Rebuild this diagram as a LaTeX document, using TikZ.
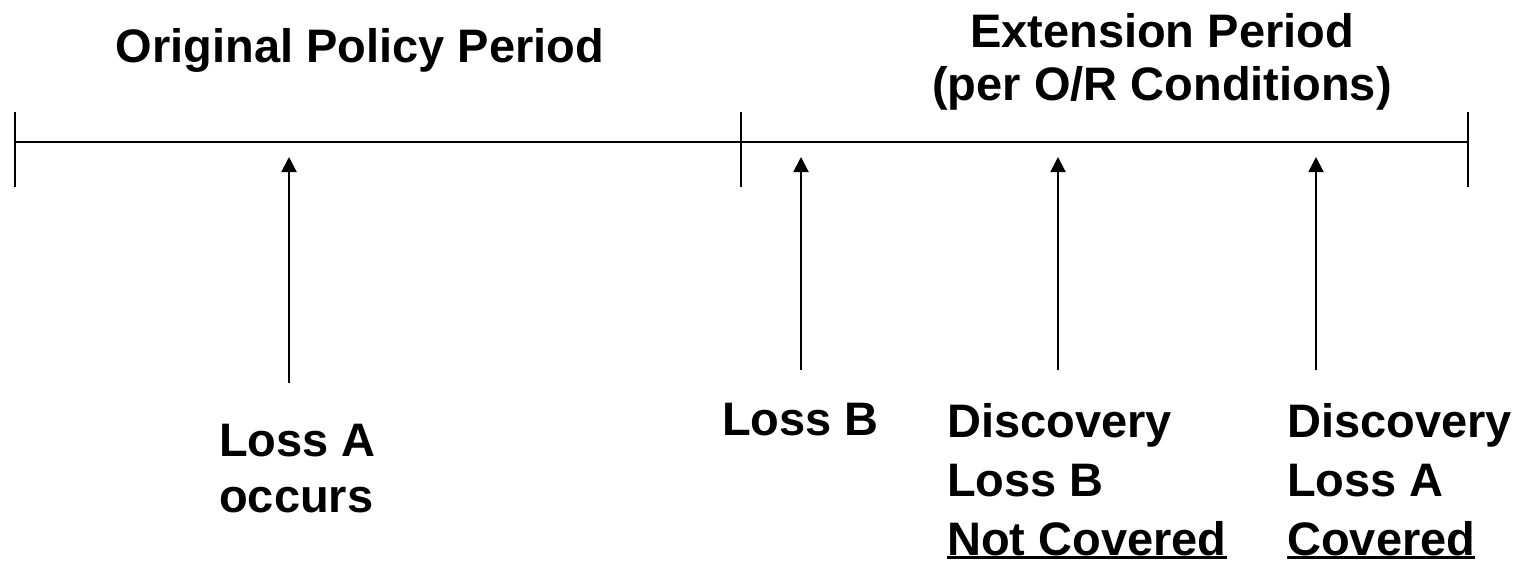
\documentclass[tikz,border=0pt]{standalone}
\usepackage{fontspec}
\setmainfont{Liberation Sans}
\usetikzlibrary{arrows.meta}
\newcommand\ulin[1]{\leavevmode\setbox0\hbox{#1}\rlap{\rule[-4pt]{\wd0}{3pt}}\box0}
\begin{document}
\begin{tikzpicture}[x=1pt,y=-1pt,
  lbl/.style={font=\bfseries\fontsize{47}{59}\selectfont, inner sep=0pt, align=left, anchor=north west},
  ttl/.style={font=\bfseries\fontsize{47}{53}\selectfont, inner sep=0pt, align=center},
  axis/.style={line width=2.5pt},
  tick/.style={line width=2pt},
  ptr/.style={line width=2pt, -{Triangle[width=15pt,length=15pt]}}]
\useasboundingbox (0,0) rectangle (1525,563);
% timeline
\coordinate (L) at (15,142);
\coordinate (M) at (741,142);
\coordinate (R) at (1468,142);
\draw[axis] (L) -- (R);
\draw[tick] (15,112) -- (15,187);
\draw[tick] (741,112) -- (741,187);
\draw[tick] (1468,112) -- (1468,187);
% titles
\node[ttl, anchor=base] (t1) at (360,62) {Original Policy Period};
\node[ttl, anchor=north] (t2) at (1162,13) {Extension Period\\(per O/R Conditions)};
% arrows
\coordinate (a1s) at (289,383); \coordinate (a1e) at (289,157);
\coordinate (a2s) at (801,370); \coordinate (a2e) at (801,157);
\coordinate (a3s) at (1058,370); \coordinate (a3e) at (1058,157);
\coordinate (a4s) at (1316,370); \coordinate (a4e) at (1316,157);
\draw[ptr] (a1s) -- (a1e);
\draw[ptr] (a2s) -- (a2e);
\draw[ptr] (a3s) -- (a3e);
\draw[ptr] (a4s) -- (a4e);
% labels
\node[lbl, font=\bfseries\fontsize{47}{56}\selectfont] (la) at (219,424) {Loss A\\occurs};
\node[lbl] (lb) at (722,403) {Loss B};
\node[lbl] (dB) at (947,403) {Discovery\\Loss B\\\ulin{Not Covered}};
\node[lbl] (dA) at (1287,403) {Discovery\\Loss A\\\ulin{Covered}};
\end{tikzpicture}
\end{document}
